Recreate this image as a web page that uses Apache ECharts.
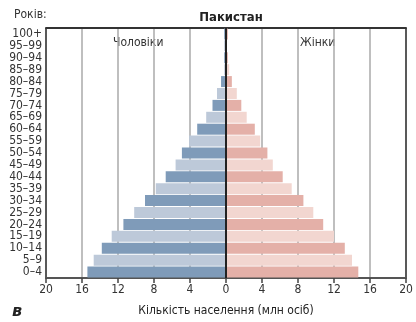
<!DOCTYPE html>
<html><head><meta charset="utf-8">
<script src="https://cdn.jsdelivr.net/npm/echarts@6/dist/echarts.min.js"></script>
<style>html,body{margin:0;padding:0;background:#fff}#c{width:416px;height:322px}</style>
</head><body><div id="c"></div>
<script>
var ages = ['0–4','5–9','10–14','15–19','20–24','25–29','30–34','35–39','40–44','45–49','50–54','55–59','60–64','65–69','70–74','75–79','80–84','85–89','90–94','95–99','100+'];
var male = [15.4,14.7,13.8,12.7,11.4,10.2,9.0,7.8,6.7,5.6,4.9,4.1,3.2,2.2,1.5,1.0,0.55,0.2,0.2,0.2,0.2];
var female = [14.7,14.0,13.2,12.0,10.8,9.7,8.6,7.3,6.3,5.2,4.6,3.8,3.2,2.3,1.7,1.2,0.65,0.35,0.2,0.1,0.2];
var xTicks = [-20,-16,-12,-8,-4,0,4,8,12,16,20];
var FONT = "'Liberation Sans Narrow','DejaVu Sans Condensed',sans-serif";
var maleColors = ['#7f9bb9','#bdc9d9'];
var femaleColors = ['#e4b0a8','#f2d6d0'];
var chart = echarts.init(document.getElementById('c'));
chart.setOption({
  animation:false,
  textStyle:{fontFamily:FONT},
  title:{text:'Пакистан',left:226,top:6,textAlign:'center',textStyle:{fontFamily:FONT,fontWeight:'bold',fontSize:13,color:'#222'}},
  grid:{left:46,right:10,top:28,bottom:42},
  xAxis:[{
    type:'value',min:xTicks[0],max:xTicks[xTicks.length-1],interval:4,
    axisLine:{show:true,onZero:false,lineStyle:{color:'#555',width:2}},
    axisTick:{show:true,length:5,lineStyle:{color:'#444',width:1.5}},
    axisLabel:{formatter:function(v){return Math.abs(v);},color:'#333',fontSize:12,fontFamily:FONT,margin:6},
    splitLine:{show:true,lineStyle:{color:['#222','#aaa','#aaa','#aaa','#aaa','#222','#aaa','#aaa','#aaa','#aaa','#222'],width:1.5}},
    name:'Кількість населення (млн осіб)',nameLocation:'middle',nameGap:27,
    nameTextStyle:{fontSize:12,color:'#222',fontFamily:FONT}
  },{
    type:'value',position:'top',min:-20,max:20,
    axisLine:{show:true,onZero:false,lineStyle:{color:'#333',width:2}},
    axisTick:{show:false},axisLabel:{show:false},splitLine:{show:false}
  }],
  yAxis:{
    type:'category',data:ages,
    axisLine:{show:false},axisTick:{show:false},
    axisLabel:{interval:0,color:'#333',fontSize:12,lineHeight:12,fontFamily:FONT,margin:4}
  },
  series:[{
    type:'bar',name:'Чоловіки',stack:'p',barWidth:11,
    data:male.map(function(v,i){return {value:-v,itemStyle:{color:maleColors[i%2]}};}),
    markLine:{silent:true,symbol:'none',label:{show:false},lineStyle:{color:'#222',width:2,type:'solid'},data:[{xAxis:0}]}
  },{
    type:'bar',name:'Жінки',stack:'p',barWidth:11,
    data:female.map(function(v,i){return {value:v,itemStyle:{color:femaleColors[i%2]}};})
  }],
  graphic:[
    {type:'text',left:14,top:9,style:{text:'Років:',font:"12px "+FONT,fill:'#333'}},
    {type:'text',left:113,top:37,style:{text:'Чоловіки',font:"12px "+FONT,fill:'#333'}},
    {type:'text',left:300,top:37,style:{text:'Жінки',font:"12px "+FONT,fill:'#333'}},
    {type:'text',left:12,top:304,style:{text:'в',font:"italic bold 16px 'DejaVu Sans',sans-serif",fill:'#222'}}
  ]
});
</script></body></html>
